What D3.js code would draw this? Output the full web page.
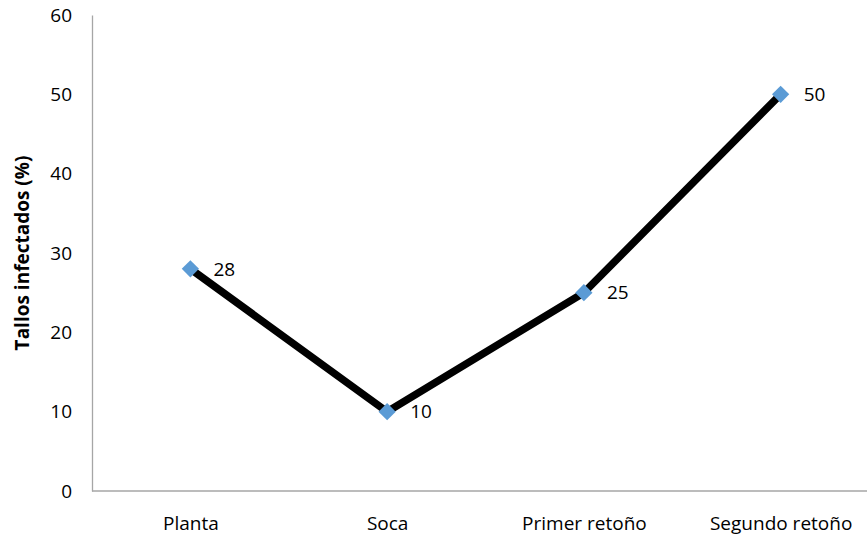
<!DOCTYPE html>
<html>
<head>
<meta charset="utf-8">
<script src="https://cdn.jsdelivr.net/npm/d3@7"></script>
<style>
  html, body { margin: 0; padding: 0; background: #fff; }
  svg { display: block; font-family: "Open Sans", "Noto Sans", sans-serif; }
</style>
</head>
<body>
<svg id="chart" width="867" height="537"></svg>
<script>
// Infected stalks by crop cycle
const categories = ["Planta", "Soca", "Primer retoño", "Segundo retoño"];
const values = [28, 10, 25, 50];
const yTicks = [0, 10, 20, 30, 40, 50, 60];
const yTitle = "Tallos infectados (%)";

const svg = d3.select("#chart");
const plotLeft = 92, plotRight = 879, plotTop = 15, plotBottom = 491;
const fontSize = 19;

const x = d3.scalePoint().domain(categories).range([plotLeft, plotRight]).padding(0.5);
const y = d3.scaleLinear().domain([0, 60]).range([plotBottom, plotTop]);

const axisColor = "#a6a6a6";

// Y axis
const yAxis = svg.append("g")
  .attr("transform", `translate(${plotLeft},0)`)
  .call(d3.axisLeft(y).tickValues(yTicks).tickSize(0).tickPadding(20));
yAxis.select(".domain").attr("stroke", axisColor).attr("stroke-width", 1.3);
yAxis.selectAll("text").attr("font-size", fontSize).attr("fill", "#000")
  .attr("font-family", "'Open Sans', 'Noto Sans', sans-serif");

// X axis
const xAxis = svg.append("g")
  .attr("transform", `translate(0,${plotBottom})`)
  .call(d3.axisBottom(x).tickSize(0).tickPadding(26));
xAxis.select(".domain").attr("stroke", axisColor).attr("stroke-width", 1.5)
  .attr("d", `M${plotLeft},0H${plotRight}`);
xAxis.selectAll("text").attr("font-size", fontSize).attr("fill", "#000")
  .attr("font-family", "'Open Sans', 'Noto Sans', sans-serif");

// Y axis title
svg.append("text")
  .attr("transform", `translate(29,${(plotTop + plotBottom) / 2}) rotate(-90)`)
  .attr("text-anchor", "middle")
  .attr("font-size", 19)
  .attr("font-weight", "bold")
  .text(yTitle);

const data = categories.map((c, i) => ({ c, v: values[i] }));

// Line
svg.append("path")
  .datum(data)
  .attr("fill", "none")
  .attr("stroke", "#000")
  .attr("stroke-width", 7.5)
  .attr("stroke-linejoin", "round")
  .attr("d", d3.line().x(d => x(d.c)).y(d => y(d.v)));

// Markers
svg.append("g").selectAll("path")
  .data(data)
  .join("path")
  .attr("transform", d => `translate(${x(d.c)},${y(d.v)})`)
  .attr("d", d3.symbol().type(d3.symbolDiamond2).size(190))
  .attr("fill", "#5b9bd5");

// Value labels
svg.append("g").selectAll("text")
  .data(data)
  .join("text")
  .attr("x", d => x(d.c) + 23)
  .attr("y", d => y(d.v))
  .attr("dy", "0.35em")
  .attr("font-size", fontSize)
  .text(d => d.v);
</script>
</body>
</html>
